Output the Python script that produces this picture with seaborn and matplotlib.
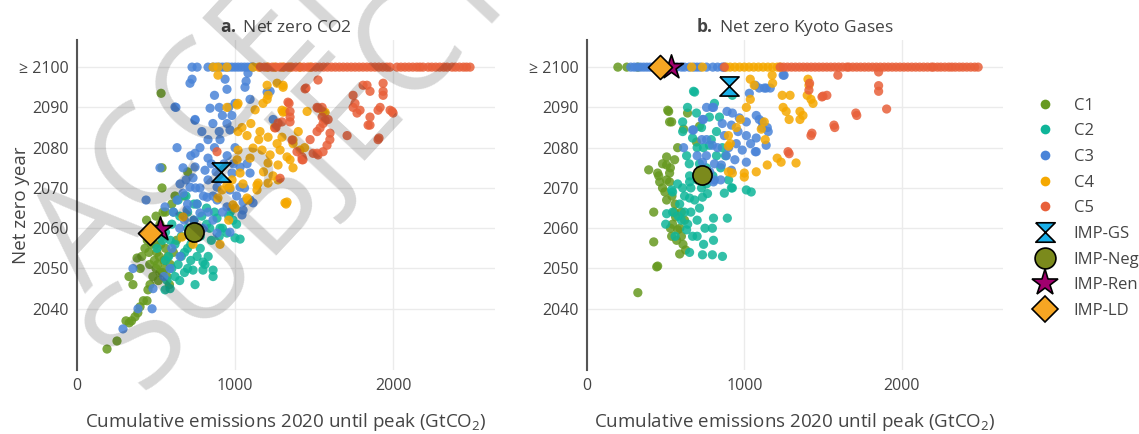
import pandas as pd
import seaborn as sns
import matplotlib.pyplot as plt
from matplotlib.lines import Line2D

# ============ Data: panel a (net zero CO2) ============
# (cumulative emissions 2020 until peak, net zero year); 2100 = "≥ 2100"
a_c1 = [(190, 2030), (253, 2032), (310, 2037), (330, 2036.5), (345, 2037), (367, 2038), (385, 2039),
        (399, 2040.5), (420, 2042), (443, 2042), (449, 2044.7), (462, 2046), (354, 2046), (329, 2048),
        (380, 2052.6), (400, 2050), (410, 2053), (430, 2055), (445, 2057), (455, 2054), (470, 2056),
        (480, 2058), (490, 2052), (500, 2050), (505, 2054), (515, 2047), (520, 2053), (530, 2056),
        (540, 2049), (550, 2052), (560, 2055), (575, 2053), (590, 2051), (610, 2054), (630, 2057),
        (440, 2062), (470, 2060), (500, 2063), (525, 2061), (545, 2058), (560, 2064), (532, 2093.5),
        (538, 2075), (538, 2070), (544, 2064), (600, 2066), (620, 2068), (480, 2048), (460, 2051),
        (510, 2051), (525, 2049), (555, 2050), (570, 2048), (495, 2056), (485, 2059), (585, 2046),
        (700, 2074), (677, 2068)]
a_c2 = [(506, 2055), (557, 2044.7), (570, 2047), (589, 2045), (600, 2050), (620, 2048), (640, 2051),
        (660, 2053), (680, 2049), (700, 2055), (720, 2052), (734, 2049.6), (747, 2046), (760, 2060),
        (780, 2055), (797, 2049.6), (797, 2051.6), (810, 2051), (830, 2053), (861, 2048), (861, 2049.6),
        (886, 2062.5), (905, 2060), (949, 2058.8), (987, 2062), (1000, 2057.6), (1032, 2057.3),
        (1010, 2061), (960, 2063), (900, 2058), (850, 2057), (820, 2061), (780, 2058), (740, 2062),
        (700, 2060), (660, 2058), (620, 2056), (580, 2053), (560, 2059), (540, 2057), (600, 2061),
        (650, 2063), (700, 2064), (760, 2066), (820, 2065), (870, 2064), (920, 2060), (970, 2064),
        (640, 2067), (690, 2068), (740, 2066), (790, 2063), (840, 2060), (720, 2056), (680, 2054),
        (610, 2064), (560, 2052), (590, 2057), (650, 2047), (700, 2050), (760, 2053)]
a_c3 = [(728, 2100), (760, 2100), (829, 2100), (860, 2100), (880, 2100), (900, 2100), (920, 2100),
        (940, 2100), (960, 2100), (980, 2100), (1000, 2100), (1020, 2100), (1040, 2100), (1060, 2100),
        (1080, 2100), (1100, 2100), (1114, 2100),
        (715, 2096), (728, 2097), (626, 2090), (747, 2087), (633, 2080), (949, 2094.5), (937, 2097),
        (1063, 2095), (1082, 2098.5), (1241, 2087), (1222, 2094), (1203, 2093.8), (620, 2090.1),
        (842, 2089.8), (1070, 2096.5), (1095, 2092),
        (747, 2086.8), (949, 2086), (968, 2084.4), (905, 2082), (829, 2082), (778, 2080), (747, 2078.6),
        (829, 2077.4), (747, 2075.2), (671, 2075), (810, 2074.4), (734, 2072.5), (652, 2071),
        (715, 2070.2), (671, 2068.7), (778, 2070), (829, 2072), (981, 2073.7), (1032, 2075.2),
        (1076, 2076), (1095, 2073.7), (1032, 2070.2), (968, 2069.5), (886, 2070.2), (823, 2067.7),
        (759, 2066), (633, 2067), (696, 2064.5), (778, 2063.8), (886, 2067), (949, 2065.3),
        (1051, 2064.5), (1095, 2067), (1114, 2066.3), (1044, 2063.3), (557, 2065.3), (525, 2075),
        (960, 2090), (920, 2088), (900, 2084), (870, 2080), (850, 2076), (900, 2072), (950, 2078),
        (1000, 2080), (990, 2076), (930, 2076), (880, 2074), (860, 2068), (800, 2068), (750, 2070),
        (700, 2066), (680, 2062), (740, 2062), (800, 2060), (860, 2062), (920, 2064), (960, 2070),
        (1010, 2068), (1060, 2070), (720, 2078), (790, 2084), (860, 2086), (900, 2090), (980, 2088),
        (1000, 2091), (870, 2093), (690, 2072), (610, 2064), (650, 2060), (760, 2058), (830, 2064),
        (291, 2035), (386, 2040), (475, 2040), (354, 2050), (481, 2045), (437, 2067), (652, 2053),
        (589, 2050), (886, 2058.8), (968, 2059), (1051, 2066.5), (550, 2048), (600, 2055)]
a_c4 = [(861, 2100), (892, 2100), (949, 2100), (1114, 2100), (1150, 2100), (1203, 2100), (1250, 2100),
        (1300, 2100), (1348, 2100), (1411, 2100), (1475, 2100),
        (892, 2098), (949, 2090), (1013, 2090.6), (1127, 2089.4), (1203, 2092), (1266, 2096),
        (1304, 2095), (1316, 2089), (1456, 2089), (1557, 2089), (1304, 2095.5), (1203, 2095.5),
        (1209, 2093), (1019, 2091), (1304, 2088.8), (1570, 2088.8), (1367, 2081.9), (1411, 2079.4),
        (1348, 2077), (1297, 2082.6), (1266, 2081), (1272, 2072), (1316, 2066.3),
        (1044, 2085), (1019, 2084), (1076, 2083), (1158, 2084), (1209, 2082.6), (1114, 2079.9),
        (1171, 2079.4), (1222, 2078.2), (1285, 2079.4), (1329, 2077.7), (1367, 2081), (1019, 2079.4),
        (1013, 2077), (1095, 2077.4), (1209, 2076.2), (1272, 2075.7), (1367, 2075), (1032, 2073.7),
        (981, 2072), (949, 2070.7), (918, 2069.5), (968, 2070), (892, 2067.5), (987, 2065.8),
        (1076, 2067.5), (1139, 2069.5), (1146, 2071.2), (1209, 2071.2), (1329, 2066.5), (1000, 2065),
        (671, 2062.8), (664, 2057.8), (734, 2056), (905, 2056), (1323, 2066), (1139, 2070.7),
        (1082, 2067), (1177, 2091), (1297, 2089.3), (1100, 2086), (1150, 2082), (1250, 2085),
        (1400, 2084), (1440, 2080), (1180, 2074), (1240, 2073), (1050, 2071), (960, 2062)]
a_c5 = [(1160, 2100), (1185, 2100), (1210, 2100), (1235, 2100), (1260, 2100), (1285, 2100), (1310, 2100),
        (1335, 2100), (1360, 2100), (1385, 2100), (1410, 2100), (1435, 2100), (1460, 2100), (1485, 2100),
        (1510, 2100), (1535, 2100), (1560, 2100), (1585, 2100), (1610, 2100), (1635, 2100), (1660, 2100),
        (1685, 2100), (1710, 2100), (1735, 2100), (1760, 2100), (1785, 2100), (1810, 2100), (1835, 2100),
        (1860, 2100), (1885, 2100), (1910, 2100), (1935, 2100), (1960, 2100), (1980, 2100), (2025, 2100),
        (2050, 2100), (2075, 2100), (2100, 2100), (2125, 2100), (2150, 2100), (2170, 2100), (2190, 2100),
        (2222, 2100), (2245, 2100), (2270, 2100), (2295, 2100), (2320, 2100), (2342, 2100), (2373, 2100),
        (2395, 2100), (2420, 2100), (2445, 2100), (2465, 2100), (2487, 2100),
        (886, 2079), (1285, 2072.4), (1342, 2091), (1348, 2089), (1348, 2086.4), (1259, 2085),
        (1443, 2094.6), (1424, 2077), (1494, 2078.6), (1519, 2090), (1525, 2096.8), (1589, 2087),
        (1601, 2083.6), (1709, 2083), (1747, 2090), (1810, 2095.5), (1854, 2094), (1937, 2096),
        (1937, 2094), (1905, 2082), (1994, 2089), (1918, 2090), (1772, 2088.6), (1842, 2085.6),
        (1551, 2090), (1557, 2086), (1519, 2084), (1475, 2082), (1519, 2078.6), (1557, 2079),
        (1392, 2079), (1424, 2077.7), (1449, 2094.8), (1747, 2093), (1759, 2091), (1791, 2089.3),
        (1835, 2095.5), (1854, 2087.6), (1854, 2085.6), (1905, 2089.3), (1981, 2089.3), (2000, 2088.6),
        (1911, 2082.4), (1582, 2080.6), (1525, 2078.2), (1430, 2077), (1361, 2081.9), (1297, 2086.4),
        (1335, 2091.3), (1348, 2087.6), (1525, 2089.8), (1551, 2087.6), (1570, 2086.8), (1538, 2084.9),
        (1272, 2086.1), (1253, 2084.9), (1937, 2093), (1600, 2082)]

# ============ Data: panel b (net zero Kyoto gases) ============
b_c1 = [(196, 2100), (253, 2100), (323, 2100), (323, 2044), (443, 2050.4), (449, 2050.6), (424, 2056.6),
        (589, 2053.6), (627, 2054.6), (538, 2058), (576, 2059.6), (544, 2061), (563, 2062.8), (424, 2064),
        (506, 2067), (392, 2074.5), (456, 2073), (525, 2071.5), (506, 2072), (525, 2073.7), (506, 2077.7),
        (557, 2077), (576, 2080), (614, 2084.6), (525, 2086.4), (519, 2089), (639, 2088.6), (715, 2085.3),
        (696, 2081.4), (513, 2089.3), (538, 2086.4), (449, 2073.7), (462, 2071.5), (506, 2075.7),
        (480, 2070), (540, 2068), (560, 2066), (600, 2064), (590, 2060), (570, 2057), (600, 2058),
        (480, 2076), (530, 2075), (620, 2062), (555, 2064), (530, 2060), (610, 2056), (495, 2069)]
b_c2 = [(861, 2053), (797, 2053.4), (734, 2053.4), (652, 2054), (804, 2057), (741, 2056), (671, 2058),
        (797, 2060), (804, 2062.5), (892, 2062.5), (620, 2064), (544, 2064), (506, 2063.6), (500, 2061),
        (633, 2059.6), (715, 2065), (684, 2067), (734, 2067.7), (766, 2068.6), (589, 2066), (576, 2071),
        (538, 2069.5), (652, 2071.5), (728, 2070), (873, 2068.7), (924, 2070), (1013, 2069.5),
        (1044, 2069), (684, 2093.8), (639, 2090), (810, 2091), (696, 2088.6), (778, 2087.6),
        (842, 2087.6), (608, 2086.4), (728, 2085), (608, 2084), (823, 2084), (671, 2082.4),
        (778, 2080.6), (633, 2078), (823, 2078), (715, 2076), (759, 2075), (652, 2073), (608, 2070),
        (544, 2069), (652, 2067.5), (918, 2070), (924, 2093), (677, 2094), (600, 2062), (640, 2061),
        (660, 2064), (700, 2062), (620, 2068), (660, 2070), (700, 2072), (760, 2071), (800, 2073),
        (850, 2075), (880, 2078), (900, 2072), (580, 2063), (560, 2058), (700, 2058), (750, 2060),
        (650, 2076), (740, 2080), (790, 2082), (700, 2080), (860, 2080)]
b_c3 = [(278, 2100), (300, 2100), (320, 2100), (340, 2100), (360, 2100), (380, 2100), (400, 2100),
        (420, 2100), (440, 2100), (570, 2100), (600, 2100), (620, 2100), (650, 2100), (680, 2100),
        (700, 2100), (720, 2100), (760, 2100), (800, 2100), (830, 2100), (860, 2100), (873, 2100),
        (1247, 2098), (1253, 2098),
        (671, 2084.4), (734, 2087), (797, 2090), (924, 2088.6), (968, 2087.4), (1013, 2086.4),
        (1095, 2087), (918, 2085.6), (873, 2083), (1013, 2083), (1076, 2082.4), (949, 2081),
        (987, 2079.4), (1076, 2079), (886, 2078), (797, 2080.6), (759, 2078), (734, 2076.4), (810, 2076),
        (854, 2075.7), (918, 2074.4), (810, 2072), (1114, 2086.4), (1146, 2085), (1139, 2080.6),
        (1032, 2093.5), (1095, 2094.8), (1139, 2094.8), (614, 2080), (677, 2084.4), (740, 2087),
        (804, 2090), (1076, 2088), (1114, 2085), (1152, 2084), (1070, 2079), (1013, 2076.4),
        (804, 2071.5), (1070, 2095.5), (1127, 2094.8), (1165, 2094.8), (760, 2082), (830, 2080),
        (860, 2086), (900, 2080), (940, 2077), (780, 2074), (850, 2072), (960, 2084), (1040, 2081),
        (890, 2089), (760, 2090), (700, 2078), (730, 2082)]
b_c4 = [(665, 2100), (734, 2100), (886, 2100), (910, 2100), (940, 2100), (970, 2100), (1000, 2100),
        (1030, 2100), (1060, 2100), (1090, 2100), (1120, 2100), (1150, 2100), (1180, 2100), (1210, 2100),
        (1228, 2100),
        (1038, 2097), (1063, 2095.5), (1177, 2098), (1405, 2097), (1411, 2095.5), (1424, 2092),
        (1437, 2091), (1241, 2093), (1291, 2093), (1247, 2090), (1266, 2089), (1285, 2087), (1354, 2089),
        (1373, 2088), (1354, 2087), (1038, 2092), (1013, 2090), (975, 2087), (949, 2085), (899, 2083),
        (911, 2081), (1108, 2084.6), (1133, 2082), (1000, 2073.7), (924, 2073.7), (899, 2074),
        (1000, 2072.7), (1076, 2074), (1146, 2075.7), (1209, 2077.4), (1234, 2076.4), (1329, 2076.2),
        (1127, 2086.4), (899, 2080.4), (1180, 2096), (1400, 2093)]
b_c5 = [(873, 2100), (1228, 2100), (1250, 2100), (1275, 2100), (1300, 2100), (1325, 2100), (1350, 2100),
        (1375, 2100), (1400, 2100), (1425, 2100), (1450, 2100), (1475, 2100), (1500, 2100), (1525, 2100),
        (1550, 2100), (1575, 2100), (1600, 2100), (1625, 2100), (1652, 2100), (1665, 2100), (1690, 2100),
        (1715, 2100), (1740, 2100), (1765, 2100), (1790, 2100), (1815, 2100), (1840, 2100), (1865, 2100),
        (1890, 2100), (1915, 2100), (1940, 2100), (1965, 2100), (1990, 2100), (2015, 2100), (2040, 2100),
        (2065, 2100), (2090, 2100), (2115, 2100), (2140, 2100), (2165, 2100), (2190, 2100), (2203, 2100),
        (2228, 2100), (2250, 2100), (2275, 2100), (2300, 2100), (2320, 2100), (2342, 2100), (2367, 2100),
        (2390, 2100), (2415, 2100), (2440, 2100), (2465, 2100), (2487, 2100),
        (1595, 2098), (1411, 2094.3), (1494, 2092.6), (1525, 2093), (1709, 2088.6), (1570, 2085.6),
        (1424, 2083), (1278, 2079), (1854, 2095.4), (1854, 2094), (1905, 2089.6), (1854, 2098.8),
        (1415, 2096), (1500, 2092.8), (1715, 2088), (1575, 2085), (1430, 2083.6), (1285, 2078.5)]

# illustrative pathways (IMP) markers
imp_names = ["IMP-GS", "IMP-Neg", "IMP-Ren", "IMP-LD"]
a_imp_x = [911, 741, 525, 462]
a_imp_y = [2074, 2059, 2059.8, 2058.8]
b_imp_x = [905, 734, 532, 462]
b_imp_y = [2095.3, 2073.2, 2100, 2100]

categories = ["C1", "C2", "C3", "C4", "C5"]
palette = {"C1": "#66991f", "C2": "#0fb599", "C3": "#4a84d8", "C4": "#f5a800", "C5": "#e8603a"}
imp_colors = ["#1ab0ea", "#7b8a1c", "#a0006e", "#f6a623"]
hourglass = [(-1, 1), (1, 1), (-1, -1), (1, -1), (-1, 1)]
imp_markers = [hourglass, "o", "*", "D"]
imp_sizes = [190, 190, 330, 150]


def to_frame(groups):
    rows = []
    for cat, pts in zip(categories, groups):
        for x, y in pts:
            rows.append({"emissions": x, "year": y, "category": cat})
    return pd.DataFrame(rows)


df_a = to_frame([a_c1, a_c2, a_c3, a_c4, a_c5])
df_b = to_frame([b_c1, b_c2, b_c3, b_c4, b_c5])

# ============ Style ============
sns.set_theme(style="white")
plt.rcParams['font.family'] = ['Open Sans', 'DejaVu Sans']
plt.rcParams['mathtext.fontset'] = 'custom'
plt.rcParams['mathtext.rm'] = 'Open Sans'
plt.rcParams['mathtext.it'] = 'Open Sans:italic'
plt.rcParams['mathtext.bf'] = 'Open Sans:bold'
text_color = "#444444"

fig = plt.figure(figsize=(11.39, 4.34), dpi=100)
ax_a = fig.add_axes([0.0676, 0.1475, 0.367, 0.760])
ax_b = fig.add_axes([0.5154, 0.1475, 0.3652, 0.760])

panels = [(ax_a, df_a, a_imp_x, a_imp_y, r"$\bf{a.}$ Net zero CO2"),
          (ax_b, df_b, b_imp_x, b_imp_y, r"$\bf{b.}$ Net zero Kyoto Gases")]

for ax, df, ix, iy, title in panels:
    sns.scatterplot(data=df, x="emissions", y="year", hue="category", hue_order=categories,
                    palette=palette, s=44, alpha=0.85, linewidth=0, legend=False, ax=ax)
    for k in range(len(imp_names)):
        ax.scatter(ix[k], iy[k], marker=imp_markers[k], s=imp_sizes[k], color=imp_colors[k],
                   edgecolor="black", linewidth=1.2, zorder=5)
    ax.set_xlim(0, 2645)
    ax.set_ylim(2024.8, 2106.7)
    ax.set_xticks([0, 1000, 2000])
    ax.set_yticks([2040, 2050, 2060, 2070, 2080, 2090, 2100])
    ax.set_yticklabels(["2040", "2050", "2060", "2070", "2080", "2090", "≥ 2100"])
    ax.grid(True, color="#ebebeb", linewidth=1)
    ax.set_axisbelow(True)
    for side in ["top", "right", "bottom"]:
        ax.spines[side].set_visible(False)
    ax.spines["left"].set_color("#555555")
    ax.spines["left"].set_linewidth(1.5)
    ax.tick_params(length=0, pad=6, labelsize=11.5, colors=text_color)
    ax.set_xlabel("Cumulative emissions 2020 until peak (GtCO$_2$)", fontsize=13.5,
                  color=text_color, labelpad=12)
    ax.set_ylabel("")
    ax.set_title(title, fontsize=12.5, color=text_color, pad=6)

ax_a.set_ylabel("Net zero year", fontsize=13.5, color=text_color)
ax_a.yaxis.set_label_coords(-0.112, 0.5)

# ============ Legend ============
handles = [Line2D([], [], ls="", marker="o", markersize=7, markerfacecolor=palette[c],
                  markeredgewidth=0) for c in categories]
leg_sizes = [14, 15, 20, 13]
for k in range(len(imp_names)):
    handles.append(Line2D([], [], ls="", marker=imp_markers[k], markersize=leg_sizes[k],
                          markerfacecolor=imp_colors[k], markeredgecolor="black",
                          markeredgewidth=1.2))
fig.legend(handles, categories + imp_names, loc="center left", bbox_to_anchor=(0.890, 0.52),
           frameon=False, fontsize=12, labelcolor=text_color, labelspacing=0.58,
           handletextpad=0.7)

# ============ Watermark ============
fig.text(0.075, 0.325, "ACCEPTED VERSION", rotation=47, rotation_mode="anchor", ha="left",
         va="baseline", fontsize=102, color="black", alpha=0.16, zorder=10)
fig.text(0.127, 0.085, "SUBJECT TO FINAL EDITS", rotation=47, rotation_mode="anchor", ha="left",
         va="baseline", fontsize=102, color="black", alpha=0.16, zorder=10)

fig.savefig("out.png", dpi=100)
